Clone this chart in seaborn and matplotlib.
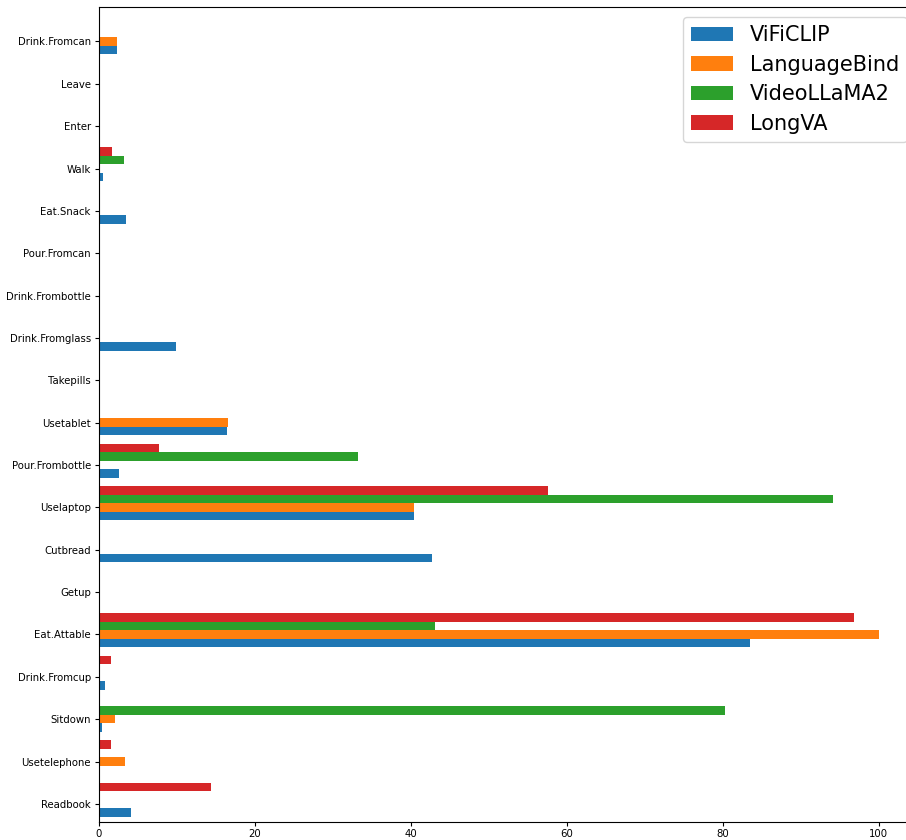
import numpy as np
import pandas as pd
import matplotlib
matplotlib.use('Agg')
import matplotlib.pyplot as plt
import seaborn as sns

# categories listed bottom -> top
actions = ['Readbook', 'Usetelephone', 'Sitdown', 'Drink.Fromcup', 'Eat.Attable',
           'Getup', 'Cutbread', 'Uselaptop', 'Pour.Frombottle', 'Usetablet',
           'Takepills', 'Drink.Fromglass', 'Drink.Frombottle', 'Pour.Fromcan',
           'Eat.Snack', 'Walk', 'Enter', 'Leave', 'Drink.Fromcan']

vificlip     = [4.2, 0.0, 0.4, 0.8, 83.5, 0.0, 42.7, 40.4, 2.6, 16.5, 0.0, 9.9, 0.0, 0.0, 3.5, 0.6, 0.0, 0.0, 2.3]
languagebind = [0.0, 3.4, 2.1, 0.0, 100.0, 0.0, 0.0, 40.4, 0.0, 16.6, 0.0, 0.0, 0.0, 0.0, 0.0, 0.0, 0.0, 0.0, 2.3]
videollama2  = [0.0, 0.0, 80.3, 0.0, 43.1, 0.0, 0.0, 94.1, 33.2, 0.0, 0.0, 0.0, 0.0, 0.0, 0.0, 3.3, 0.0, 0.0, 0.0]
longva       = [14.4, 1.6, 0.0, 1.6, 96.8, 0.0, 0.0, 57.6, 7.7, 0.0, 0.0, 0.0, 0.0, 0.0, 0.0, 1.7, 0.0, 0.0, 0.0]

models = ['ViFiCLIP', 'LanguageBind', 'VideoLLaMA2', 'LongVA']
colors = ['#1f77b4', '#ff7f0e', '#2ca02c', '#d62728']

df = pd.DataFrame({'action': actions, 'ViFiCLIP': vificlip, 'LanguageBind': languagebind,
                   'VideoLLaMA2': videollama2, 'LongVA': longva})
long_df = df.melt(id_vars='action', var_name='model', value_name='score')

fig = plt.figure(figsize=(9.06, 8.40), dpi=100)
# axes run a little past the right edge, as in the cropped original
ax = fig.add_axes([98.6 / 906, 18.3 / 840, 819 / 906, 815 / 840])

sns.barplot(data=long_df, x='score', y='action', hue='model', order=actions,
            hue_order=models, palette=colors, saturation=1, orient='h', width=0.8,
            linewidth=0, ax=ax)

n = len(actions)
ax.set_ylim(-0.52, n - 1 + 0.72)
ax.set_yticks(np.arange(n) - 0.1, labels=actions)
ax.set_xlim(0, 105)
ax.set_xticks([0, 20, 40, 60, 80, 100])
ax.set_xlabel('')
ax.set_ylabel('')
ax.tick_params(labelsize=7.3, length=2.8, pad=2.8, width=0.8)
for s in ax.spines.values():
    s.set_linewidth(0.8)

handles = ax.get_legend().legend_handles
ax.legend(handles, models, loc='upper right', fontsize=15, labelspacing=0.45)

fig.savefig('out.png', dpi=100)
